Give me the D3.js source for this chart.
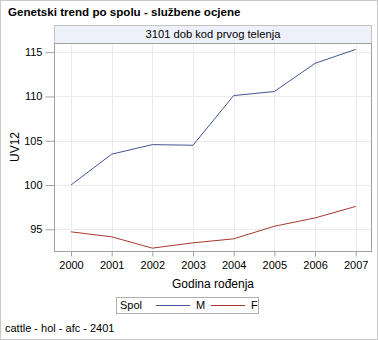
<!DOCTYPE html>
<html><head><meta charset="utf-8">
<script src="https://cdn.jsdelivr.net/npm/d3@7"></script>
<style>
html,body{margin:0;padding:0;background:#fff;}
svg{display:block;font-family:"Liberation Sans",Arial,sans-serif;}
</style></head>
<body>
<script>
const years = [2000, 2001, 2002, 2003, 2004, 2005, 2006, 2007];
const valuesM = [100.0, 103.48, 104.56, 104.49, 110.1, 110.56, 113.74, 115.31];
const valuesF = [94.71, 94.15, 92.87, 93.47, 93.92, 95.34, 96.28, 97.58];
const yTicks = [95, 100, 105, 110, 115];
const seriesNames = ["M", "F"];
const colors = {M: "#445694", F: "#A23A2E"};

const W = 378, H = 340;
const svg = d3.select("body").append("svg").attr("width", W).attr("height", H);

// outer border
svg.append("rect").attr("x", 0.5).attr("y", 0.5).attr("width", W - 1).attr("height", H - 1)
  .attr("fill", "#fff").attr("stroke", "#C8C8C8");

svg.append("text").attr("x", 8).attr("y", 16).attr("font-size", 11.6).attr("font-weight", "bold")
  .attr("fill", "#000").text("Genetski trend po spolu - službene ocjene");

const plot = {l: 54.5, r: 371.5, t: 43.5, b: 251.5};

// strip
svg.append("rect").attr("x", plot.l).attr("y", 25.5).attr("width", plot.r - plot.l).attr("height", plot.t - 25.5)
  .attr("fill", "#EEF1FA").attr("stroke", "#C4C4C4");
svg.append("text").attr("x", (plot.l + plot.r) / 2).attr("y", 38).attr("text-anchor", "middle")
  .attr("font-size", 11.2).attr("fill", "#000").text("3101 dob kod prvog telenja");

const x = d3.scalePoint().domain(years).range([71, 355.7]);
const y = d3.scaleLinear().domain([92.49, 115.98]).range([plot.b, plot.t]);

// grid
const g = svg.append("g");
g.selectAll(".gx").data(years).enter().append("line")
  .attr("x1", d => Math.round(x(d)) + 0.5).attr("x2", d => Math.round(x(d)) + 0.5)
  .attr("y1", plot.t).attr("y2", plot.b).attr("stroke", "#EBEBEB");
g.selectAll(".gy").data(yTicks).enter().append("line")
  .attr("y1", d => Math.round(y(d)) + 0.5).attr("y2", d => Math.round(y(d)) + 0.5)
  .attr("x1", plot.l).attr("x2", plot.r).attr("stroke", "#EBEBEB");

// axes
const yAxis = d3.axisLeft(y).tickValues(yTicks).tickSize(9).tickPadding(3).tickFormat(d3.format("d"));
const yg = svg.append("g").attr("transform", `translate(${plot.l},0)`).call(yAxis);
yg.select(".domain").remove();
yg.selectAll(".tick line").attr("stroke", "#A0A0A0");
yg.selectAll(".tick text").attr("font-size", 11).attr("font-family", "Liberation Sans, Arial, sans-serif").attr("fill", "#000");

const xAxis = d3.axisBottom(x).tickSize(5).tickPadding(5).tickFormat(d3.format("d"));
const xg = svg.append("g").attr("transform", `translate(0,${plot.b})`).call(xAxis);
xg.select(".domain").remove();
xg.selectAll(".tick line").attr("stroke", "#A0A0A0");
xg.selectAll(".tick text").attr("font-size", 11).attr("font-family", "Liberation Sans, Arial, sans-serif").attr("fill", "#000");

// frame
svg.append("rect").attr("x", plot.l).attr("y", plot.t).attr("width", plot.r - plot.l).attr("height", plot.b - plot.t)
  .attr("fill", "none").attr("stroke", "#A0A0A0");

// lines
const line = d3.line().x((d, i) => x(years[i])).y(d => y(d));
svg.append("path").datum(valuesM).attr("d", line).attr("fill", "none").attr("stroke", colors.M).attr("stroke-width", 1);
svg.append("path").datum(valuesF).attr("d", line).attr("fill", "none").attr("stroke", colors.F).attr("stroke-width", 1);

// axis labels
svg.append("text").attr("x", (plot.l + plot.r) / 2).attr("y", 288).attr("text-anchor", "middle")
  .attr("font-size", 12).attr("fill", "#000").text("Godina rođenja");
svg.append("text").attr("transform", "translate(19,147) rotate(-90)").attr("text-anchor", "middle")
  .attr("font-size", 12).attr("fill", "#000").text("UV12");

// legend
const lg = svg.append("g");
lg.append("rect").attr("x", 116.5).attr("y", 297.5).attr("width", 142).attr("height", 16)
  .attr("fill", "#fff").attr("stroke", "#B0B0B0");
lg.append("text").attr("x", 120).attr("y", 309).attr("font-size", 11).attr("fill", "#000").text("Spol");
const legX = {M: 156, F: 211};
seriesNames.forEach(n => {
  lg.append("line").attr("x1", legX[n]).attr("x2", legX[n] + 34).attr("y1", 305.5).attr("y2", 305.5)
    .attr("stroke", colors[n]);
  lg.append("text").attr("x", legX[n] + 40).attr("y", 309).attr("font-size", 11).attr("fill", "#000").text(n);
});

svg.append("text").attr("x", 5).attr("y", 332).attr("font-size", 11).attr("fill", "#000").text("cattle - hol - afc - 2401");
</script>
</body></html>
